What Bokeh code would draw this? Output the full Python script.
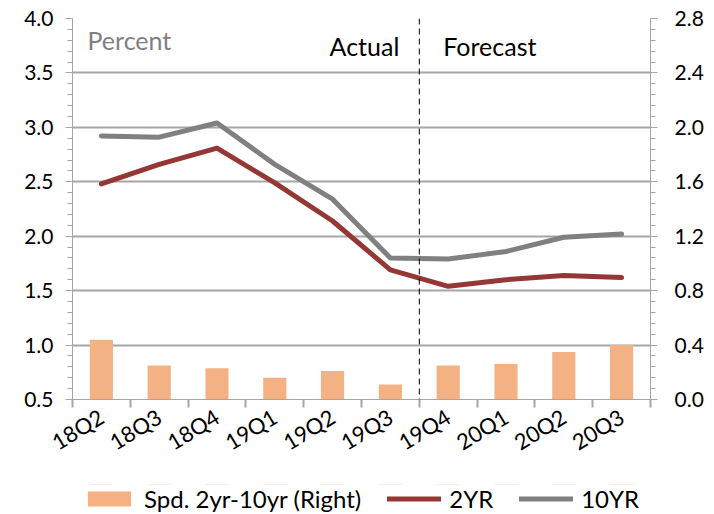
import numpy as np
from bokeh.plotting import figure
from bokeh.layouts import column
from bokeh.models import (Range1d, LinearAxis, FixedTicker, SingleIntervalTicker,
                          PrintfTickFormatter, Span, Label, Legend, LegendItem,
                          ColumnDataSource)
from bokeh.embed import file_html
from bokeh.resources import INLINE

categories = ["18Q2", "18Q3", "18Q4", "19Q1", "19Q2", "19Q3", "19Q4", "20Q1", "20Q2", "20Q3"]
two_yr = [2.48, 2.66, 2.81, 2.49, 2.14, 1.69, 1.54, 1.60, 1.64, 1.62]
ten_yr = [2.92, 2.91, 3.04, 2.66, 2.34, 1.80, 1.79, 1.86, 1.99, 2.02]
spread = [0.44, 0.25, 0.23, 0.16, 0.21, 0.11, 0.25, 0.26, 0.35, 0.40]
right_ticks = [0.0, 0.4, 0.8, 1.2, 1.6, 2.0, 2.4, 2.8]
first_forecast = "19Q4"

FONT = "Lato"
GRID = "#A6A6A6"
BAR_C = "#F4B183"
TWO_C = "#953735"
TEN_C = "#808080"

n = len(categories)
centers = list(np.arange(n) + 0.5)
bounds = list(range(n + 1))
src = ColumnDataSource(dict(x=centers, two=two_yr, ten=ten_yr, spd=spread))

p = figure(width=714, height=484, output_backend="svg", toolbar_location=None,
           x_range=Range1d(0, n), y_range=Range1d(0.5, 4.0),
           x_axis_location=None, y_axis_location=None)
p.extra_y_ranges = {"right": Range1d(right_ticks[0], right_ticks[-1])}
p.min_border_left = 72
p.min_border_right = 64
p.min_border_top = 18
p.min_border_bottom = 85
p.outline_line_color = None
p.background_fill_color = "white"

def style_axis(ax):
    ax.axis_line_color = GRID
    ax.major_tick_line_color = GRID
    ax.minor_tick_line_color = GRID
    ax.major_label_text_font = FONT
    ax.major_label_text_font_size = "21px"
    ax.major_label_text_color = "black"

left = LinearAxis(ticker=SingleIntervalTicker(interval=0.5, num_minor_ticks=5),
                  formatter=PrintfTickFormatter(format="%.1f"))
style_axis(left)
left.major_tick_out = 7
left.major_tick_in = 0
left.minor_tick_out = 5
left.minor_tick_in = 0
left.major_label_standoff = 12
p.add_layout(left, "left")

step = right_ticks[1] - right_ticks[0]
right_minor = [round(right_ticks[0] + i * step / 5, 3) for i in range(5 * (len(right_ticks) - 1) + 1)]
right = LinearAxis(y_range_name="right",
                   ticker=FixedTicker(ticks=right_ticks, minor_ticks=right_minor),
                   formatter=PrintfTickFormatter(format="%.1f"))
style_axis(right)
right.major_tick_out = 7
right.major_tick_in = 0
right.minor_tick_out = 5
right.minor_tick_in = 0
right.major_label_standoff = 17
p.add_layout(right, "right")

bottom = LinearAxis(ticker=FixedTicker(ticks=centers, minor_ticks=bounds),
                    major_label_overrides={c: lab for c, lab in zip(centers, categories)})
style_axis(bottom)
bottom.major_label_text_font_size = "22px"
bottom.major_tick_line_color = None
bottom.minor_tick_out = 8
bottom.minor_tick_in = 0
bottom.minor_tick_line_width = 2
bottom.major_label_orientation = 0.55
bottom.major_label_standoff = 7
p.add_layout(bottom, "below")

p.xgrid.visible = False
p.ygrid.grid_line_color = GRID
p.ygrid.grid_line_width = 2
p.ygrid.ticker = left.ticker

p.vbar(x="x", top="spd", bottom=0, width=0.4, source=src, y_range_name="right",
       fill_color=BAR_C, line_color=None)
p.line(x="x", y="two", source=src, line_color=TWO_C, line_width=5,
       line_cap="round", line_join="round")
p.line(x="x", y="ten", source=src, line_color=TEN_C, line_width=5,
       line_cap="round", line_join="round")

split = categories.index(first_forecast)
p.add_layout(Span(location=split, dimension="height", line_color="black",
                  line_width=1, line_dash="6 4"))

p.add_layout(Label(x=0, y=4.0, x_offset=15, y_offset=-6, text="Percent",
                   text_font=FONT, text_font_size="25px", text_color="#7F7F7F",
                   text_baseline="top"))
p.add_layout(Label(x=split, y=4.0, x_offset=-20, y_offset=-12, text="Actual",
                   text_font=FONT, text_font_size="25px", text_color="black",
                   text_baseline="top", text_align="right"))
p.add_layout(Label(x=split, y=4.0, x_offset=24, y_offset=-12, text="Forecast",
                   text_font=FONT, text_font_size="25px", text_color="black",
                   text_baseline="top", text_align="left"))

# legend strip below the chart (same series, drawn outside its visible range)
q = figure(width=714, height=30, output_backend="svg", toolbar_location=None,
           x_range=p.x_range, y_range=Range1d(-2, -1),
           x_axis_location=None, y_axis_location=None, min_border=0)
q.outline_line_color = None
q.grid.visible = False
lb = q.vbar(x="x", top="spd", bottom=0, width=0.4, source=src,
            fill_color=BAR_C, line_color=None)
l2 = q.line(x="x", y="two", source=src, line_color=TWO_C, line_width=5, line_cap="round")
l10 = q.line(x="x", y="ten", source=src, line_color=TEN_C, line_width=5, line_cap="round")
legend = Legend(items=[LegendItem(label="Spd. 2yr-10yr (Right)", renderers=[lb]),
                       LegendItem(label="2YR", renderers=[l2]),
                       LegendItem(label="10YR", renderers=[l10])],
                orientation="horizontal", location=(10, 1),
                glyph_width=54, glyph_height=19, label_standoff=8, spacing=26,
                padding=0, margin=0, border_line_color=None,
                background_fill_alpha=0,
                label_text_font=FONT, label_text_font_size="24px",
                label_text_color="black")
q.add_layout(legend, "center")

layout = column(p, q, spacing=0)
open("out.html", "w").write(file_html(layout, INLINE))
